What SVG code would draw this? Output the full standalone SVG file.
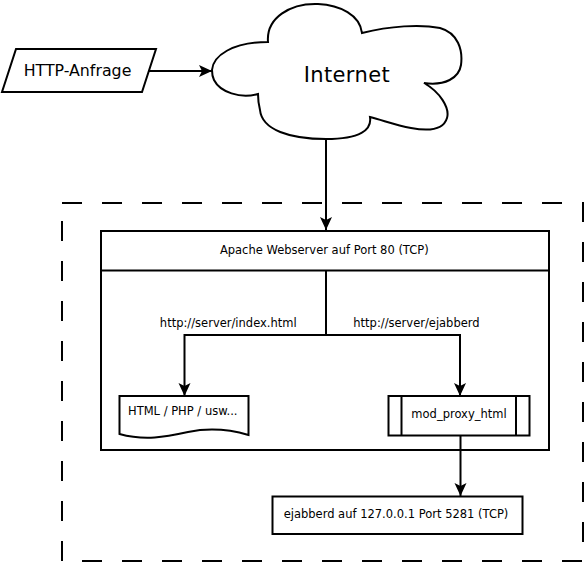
<svg xmlns="http://www.w3.org/2000/svg" width="586" height="564" viewBox="0 0 586 564">
<style>
.s{fill:#fff;stroke:#000;stroke-width:2}
.n{fill:none;stroke:#000;stroke-width:2}
.t{font-family:"DejaVu Sans","Liberation Sans",sans-serif;font-size:11.5px;fill:#000}
.c{text-anchor:middle}
.ln{fill:none;stroke:#000;stroke-width:2}
</style>
<defs>
<marker id="arr" viewBox="0 0 13 13" refX="13" refY="6.5" markerWidth="13" markerHeight="13" markerUnits="userSpaceOnUse" orient="auto">
<path d="M13,6.5 L0,0.5 L3,6.5 L0,12.5 Z" fill="#000"/>
</marker>
</defs>
<rect x="62" y="203" width="521" height="358" fill="none" stroke="#000" stroke-width="2" stroke-dasharray="20 20"/>
<g id="http-anfrage">
<polygon class="s" points="16,49 156,49 142,92 2,92"/>
<text class="t c" x="77.5" y="76" style="font-size:15.8px">HTTP-Anfrage</text>
</g>
<g id="internet">
<path class="s" d="M212,70 C213,56 232,42 268,42 C266,18 290,3 318,4 C340,5 360,15 362,33 C390,26 420,24 440,28 C458,33 463,50 461,65 C459,78 445,86 424,83 C440,92 450,108 447,118 C444,128 432,132 411,128 C396,125 385,121 370,117 C372,130 360,139 326,139 C290,139 262,130 260,110 C258,102 258,98 258,94 C240,99 220,92 214,80 C212,76 212,73 212,70 Z"/>
<text class="t c" x="346.7" y="81.7" style="font-size:21px" textLength="86" lengthAdjust="spacing">Internet</text>
</g>
<g id="apache">
<rect class="s" x="101" y="231" width="448" height="219"/>
<line class="n" x1="101" y1="270.5" x2="549" y2="270.5"/>
<text class="t c" x="324.3" y="254.3">Apache Webserver auf Port 80 (TCP)</text>
</g>
<g id="html">
<path class="s" d="M119.5,396 H248.5 V435 C228,429 208,428 188,432 C165,437 145,441 119.5,434 Z"/>
<text class="t" x="128" y="414.5">HTML / PHP / usw...</text>
</g>
<g id="mod-proxy">
<rect class="s" x="388.5" y="396" width="141" height="39.5"/>
<line class="n" x1="401.5" y1="396" x2="401.5" y2="435.5"/>
<line class="n" x1="516" y1="396" x2="516" y2="435.5"/>
<text class="t c" x="459" y="418">mod_proxy_html</text>
</g>
<g id="ejabberd">
<rect class="s" x="272.5" y="496.5" width="250" height="37.5"/>
<text class="t c" x="396" y="518">ejabberd auf 127.0.0.1 Port 5281 (TCP)</text>
</g>
<g id="connectors">
<line class="ln" x1="148" y1="71" x2="212" y2="71" marker-end="url(#arr)"/>
<line class="ln" x1="326" y1="139" x2="326" y2="230" marker-end="url(#arr)"/>
<polyline class="ln" points="326,271 326,335 184.5,335 184.5,396" marker-end="url(#arr)"/>
<polyline class="ln" points="326,335 460,335 460,396" marker-end="url(#arr)"/>
<line class="ln" x1="460.5" y1="435.5" x2="460.5" y2="496" marker-end="url(#arr)"/>
<text class="t" x="296.7" y="326.7" text-anchor="end">http://server/index.html</text>
<text class="t" x="353.3" y="326.7">http://server/ejabberd</text>
</g>
</svg>
